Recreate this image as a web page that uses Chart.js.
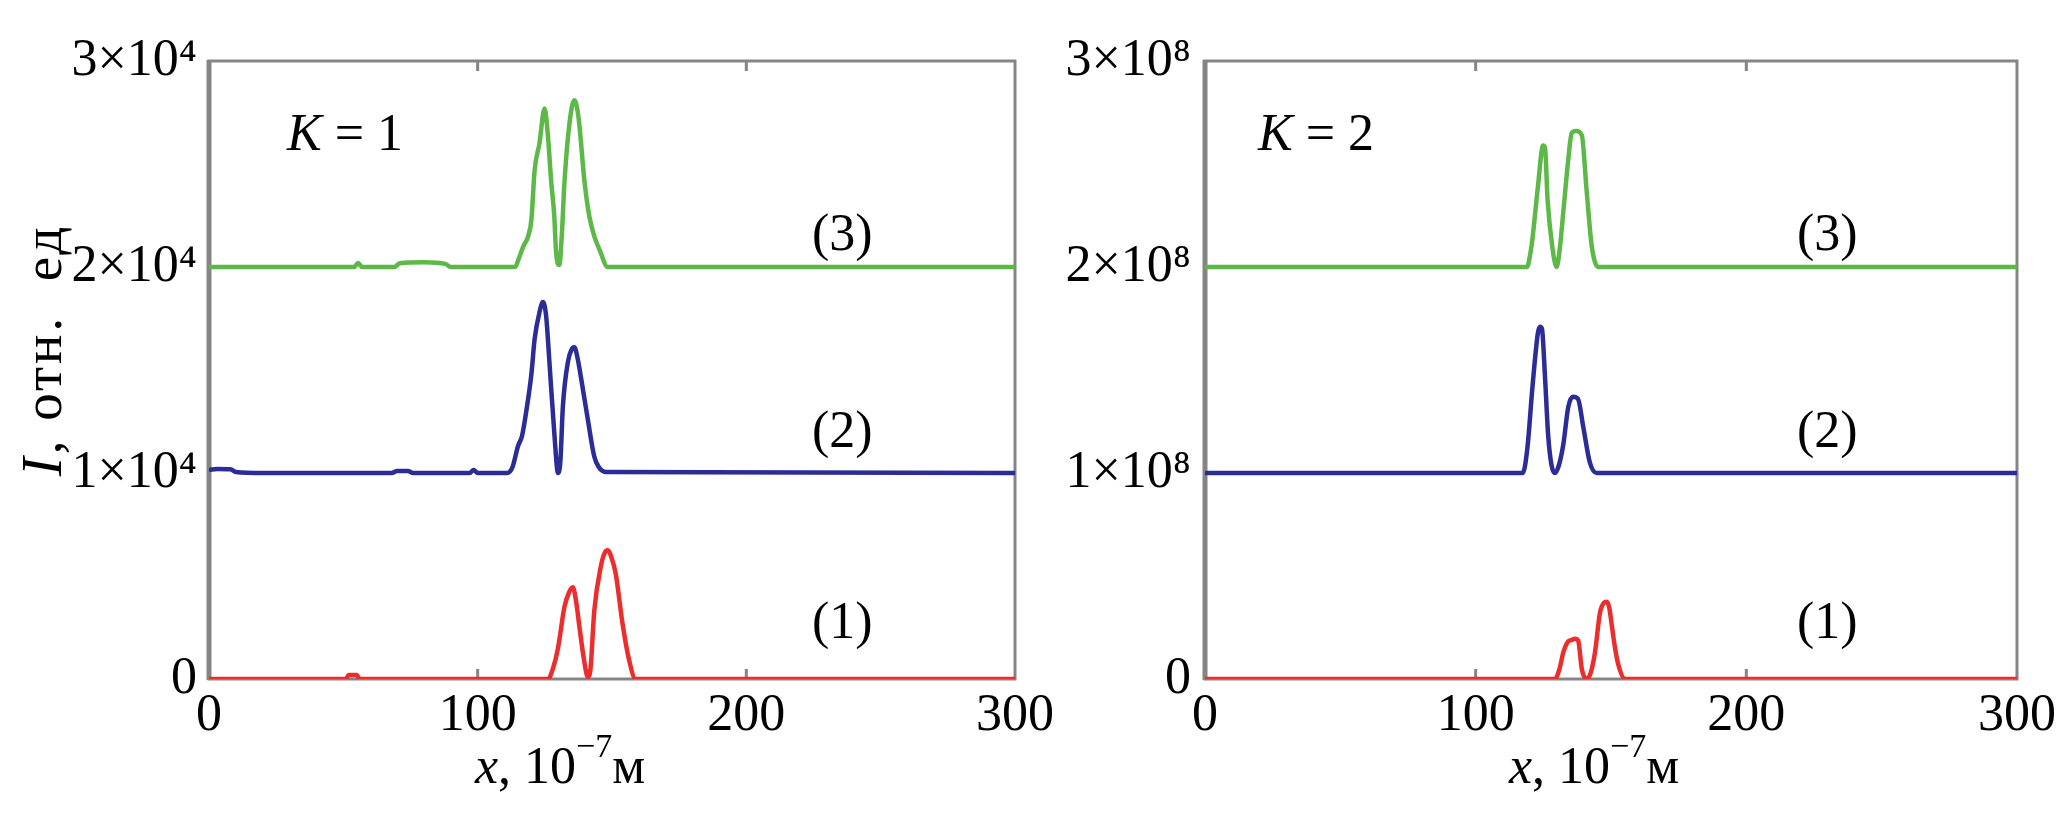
<!DOCTYPE html>
<html>
<head>
<meta charset="utf-8">
<script src="https://cdn.jsdelivr.net/npm/chart.js@4.4.0/dist/chart.umd.min.js"></script>
<style>
  html, body { margin: 0; padding: 0; background: #fff; }
  #wrap { position: relative; width: 2067px; height: 827px; overflow: hidden; }
  canvas { position: absolute; top: 0; }
  #left { left: 0; }
  #right { left: 1060px; }
</style>
</head>
<body>
<div id="wrap">
  <canvas id="left" width="1060" height="827"></canvas>
  <canvas id="right" width="1007" height="827"></canvas>
</div>
<script>
// tick labels
const xTickLabels = ['0', '100', '200', '300'];
const yTickLabelsK1 = ['0', '1×10⁴', '2×10⁴', '3×10⁴'];
const yTickLabelsK2 = ['0', '1×10⁸', '2×10⁸', '3×10⁸'];
const curveNames = ['(1)', '(2)', '(3)'];

// K = 1, I in units of 10^4, x in 10^-7 m
const k1RedX   = [0, 51, 52, 55, 56, 126.2, 128, 129.9, 132.3, 134, 135.4, 136.6, 137.9, 139.5, 141, 142, 143.4, 145.9, 147.2, 148.4, 149.8, 151.4, 153.9, 156.4, 158.8, 300];
const k1RedY   = [0, 0, 0.02, 0.02, 0, 0, 0.05, 0.15, 0.35, 0.42, 0.445, 0.38, 0.25, 0.1, 0.01, 0.05, 0.33, 0.55, 0.61, 0.625, 0.59, 0.51, 0.27, 0.09, 0, 0];
const k1BlueX  = [0, 3, 8, 10, 20, 68, 70, 74, 76, 97, 98.5, 100, 111, 113, 115, 116.5, 118.1, 120, 121.2, 123, 124.3, 125.5, 126.8, 128.6, 129.9, 130.8, 131.7, 133.6, 135, 136, 137.3, 138.5, 141, 143.4, 145, 147.6, 300];
const k1BlueY  = [1.015, 1.02, 1.018, 1.005, 1.0, 1.0, 1.01, 1.01, 1.0, 1.0, 1.015, 1.0, 1.0, 1.03, 1.13, 1.18, 1.3, 1.48, 1.65, 1.78, 1.83, 1.76, 1.52, 1.18, 1.0, 1.06, 1.32, 1.54, 1.6, 1.61, 1.55, 1.46, 1.26, 1.08, 1.03, 1.005, 1.0];
const k1GreenX = [0, 54, 55.5, 57, 69, 71, 80, 88, 90, 114, 115, 117, 118.8, 120, 121.2, 123, 124.9, 126, 127.4, 128.5, 129.2, 130.4, 131.3, 132.3, 134.2, 136, 137.5, 139.8, 141.5, 143.4, 145.5, 148.4, 300];
const k1GreenY = [2.0, 2.0, 2.02, 2.0, 2.0, 2.018, 2.023, 2.015, 2.0, 2.0, 2.03, 2.1, 2.15, 2.23, 2.47, 2.6, 2.77, 2.66, 2.41, 2.25, 2.07, 2.01, 2.15, 2.41, 2.7, 2.81, 2.73, 2.41, 2.25, 2.15, 2.08, 2.0, 2.0];

// K = 2, I in units of 10^8
const k2RedX   = [0, 129.3, 131, 132.4, 134, 135.5, 136.7, 137.9, 139.2, 141, 142.5, 144.1, 145.9, 147.4, 148.4, 149.3, 150.3, 151.5, 152.7, 155.2, 300];
const k2RedY   = [0, 0, 0.05, 0.13, 0.18, 0.19, 0.195, 0.185, 0.05, 0, 0.03, 0.13, 0.32, 0.37, 0.375, 0.35, 0.26, 0.15, 0.07, 0, 0];
const k2BlueX  = [0, 117.4, 119.1, 121, 123, 123.8, 124.5, 125.6, 126.8, 128, 129.3, 130.8, 132.4, 134.2, 136, 137.8, 139.8, 142.2, 144.7, 300];
const k2BlueY  = [1.0, 1.0, 1.12, 1.42, 1.68, 1.71, 1.7, 1.47, 1.18, 1.04, 1.0, 1.04, 1.14, 1.32, 1.37, 1.36, 1.22, 1.05, 1.0, 1.0];
const k2GreenX = [0, 119, 120, 121, 123, 124.9, 125.6, 126.6, 128.4, 129.9, 131, 132.4, 134.2, 135.5, 137, 139.2, 141, 142.9, 145.3, 300];
const k2GreenY = [2.0, 2.0, 2.05, 2.14, 2.39, 2.59, 2.58, 2.32, 2.09, 2.0, 2.08, 2.27, 2.52, 2.65, 2.66, 2.64, 2.37, 2.1, 2.0, 2.0];

const RED = '#ec2d2d', BLUE = '#2c2c96', GREEN = '#5cb947', FRAME = '#858585';
const SERIF = '"Liberation Serif", "Times New Roman", serif';

function toPoints(xs, ys) {
  return xs.map((x, i) => ({ x: x, y: ys[i] }));
}

// draws pieces of text one after another (for italics and superscripts)
function drawRuns(ctx, runs, x, y) {
  let cx = x;
  runs.forEach(r => {
    ctx.font = r.font;
    ctx.fillText(r.t, cx, y - (r.dy || 0));
    cx += ctx.measureText(r.t).width;
  });
  return cx - x;
}

const framePlugin = {
  id: 'frame',
  beforeDatasetsDraw(chart) {
    const ctx = chart.ctx, a = chart.chartArea;
    ctx.save();
    ctx.strokeStyle = FRAME;
    ctx.lineWidth = 3;
    ctx.strokeRect(a.left, a.top, a.right - a.left, a.bottom - a.top);
    ctx.lineWidth = 5;
    ctx.beginPath();
    ctx.moveTo(a.left, a.top - 1);
    ctx.lineTo(a.left, a.bottom + 1);
    ctx.stroke();
    ctx.lineWidth = 3;
    [100, 200].forEach(v => {
      const px = chart.scales.x.getPixelForValue(v);
      ctx.beginPath();
      ctx.moveTo(px, a.top); ctx.lineTo(px, a.top + 10);
      ctx.moveTo(px, a.bottom); ctx.lineTo(px, a.bottom - 10);
      ctx.stroke();
    });
    ctx.restore();
  }
};

const textPlugin = {
  id: 'texts',
  afterDraw(chart, args, o) {
    const ctx = chart.ctx;
    ctx.save();
    ctx.fillStyle = '#000';
    ctx.textBaseline = 'alphabetic';
    ctx.textAlign = 'left';
    // K label
    drawRuns(ctx, [
      { t: 'K', font: 'italic 52px ' + SERIF },
      { t: ' = ' + o.k, font: '52px ' + SERIF }
    ], o.kX, o.kY);
    // curve labels
    ctx.font = '52px ' + SERIF;
    o.curveY.forEach((y, i) => ctx.fillText(curveNames[i], o.curveX, y));
    // x title
    drawRuns(ctx, [
      { t: 'x', font: 'italic 52px ' + SERIF },
      { t: ', 10', font: '52px ' + SERIF },
      { t: '−7', font: '34px ' + SERIF, dy: 26 },
      { t: 'м', font: '52px ' + SERIF }
    ], o.xTitleX, o.xTitleY);
    // y title, rotated
    if (o.yTitle) {
      const runs = [
        { t: 'I', font: 'italic 57px ' + SERIF },
        { t: ', отн.  ед', font: '55px ' + SERIF }
      ];
      ctx.translate(o.yTitle.x, o.yTitle.y);
      ctx.rotate(-Math.PI / 2);
      ctx.letterSpacing = '3px';
      let w = 0;
      runs.forEach(r => { ctx.font = r.font; w += ctx.measureText(r.t).width; });
      drawRuns(ctx, runs, -w / 2, 0);
    }
    ctx.restore();
  }
};

function makeChart(id, cfg) {
  return new Chart(document.getElementById(id), {
    type: 'line',
    data: {
      datasets: [
        { data: toPoints(cfg.redX, cfg.redY), borderColor: RED },
        { data: toPoints(cfg.blueX, cfg.blueY), borderColor: BLUE },
        { data: toPoints(cfg.greenX, cfg.greenY), borderColor: GREEN }
      ]
    },
    options: {
      responsive: false,
      animation: false,
      layout: { padding: { top: 61, right: cfg.padRight, left: 0, bottom: 0 } },
      elements: {
        point: { radius: 0 },
        line: { borderWidth: 4.5, cubicInterpolationMode: 'monotone', fill: false }
      },
      plugins: {
        legend: { display: false },
        tooltip: { enabled: false },
        texts: cfg.texts
      },
      scales: {
        x: {
          type: 'linear', min: 0, max: 300,
          afterFit: s => { s.height = 148; },
          grid: { display: false, drawTicks: false },
          border: { display: false },
          ticks: {
            stepSize: 100, maxRotation: 0, autoSkip: false, padding: 6, color: '#000',
            font: { family: SERIF, size: 52 },
            callback: v => xTickLabels[Math.round(v / 100)]
          }
        },
        y: {
          type: 'linear', min: 0, max: 3,
          afterFit: s => { s.width = cfg.axisLeft; },
          grid: { display: false, drawTicks: false },
          border: { display: false },
          ticks: {
            stepSize: 1, padding: cfg.tickPad, color: '#000',
            font: { family: SERIF, size: 52 },
            callback: v => cfg.yLabels[Math.round(v)]
          }
        }
      }
    },
    plugins: [framePlugin, textPlugin]
  });
}

makeChart('left', {
  redX: k1RedX, redY: k1RedY, blueX: k1BlueX, blueY: k1BlueY, greenX: k1GreenX, greenY: k1GreenY,
  yLabels: yTickLabelsK1, axisLeft: 209, padRight: 40, tickPad: 12,
  texts: {
    k: '1', kX: 287, kY: 150,
    curveX: 812, curveY: [638, 447, 250],
    xTitleX: 475, xTitleY: 783,
    yTitle: { x: 61, y: 350 }
  }
});

makeChart('right', {
  redX: k2RedX, redY: k2RedY, blueX: k2BlueX, blueY: k2BlueY, greenX: k2GreenX, greenY: k2GreenY,
  yLabels: yTickLabelsK2, axisLeft: 145, padRight: 50, tickPad: 14,
  texts: {
    k: '2', kX: 198, kY: 150,
    curveX: 737, curveY: [638, 447, 250],
    xTitleX: 449, xTitleY: 783
  }
});
</script>
</body>
</html>
